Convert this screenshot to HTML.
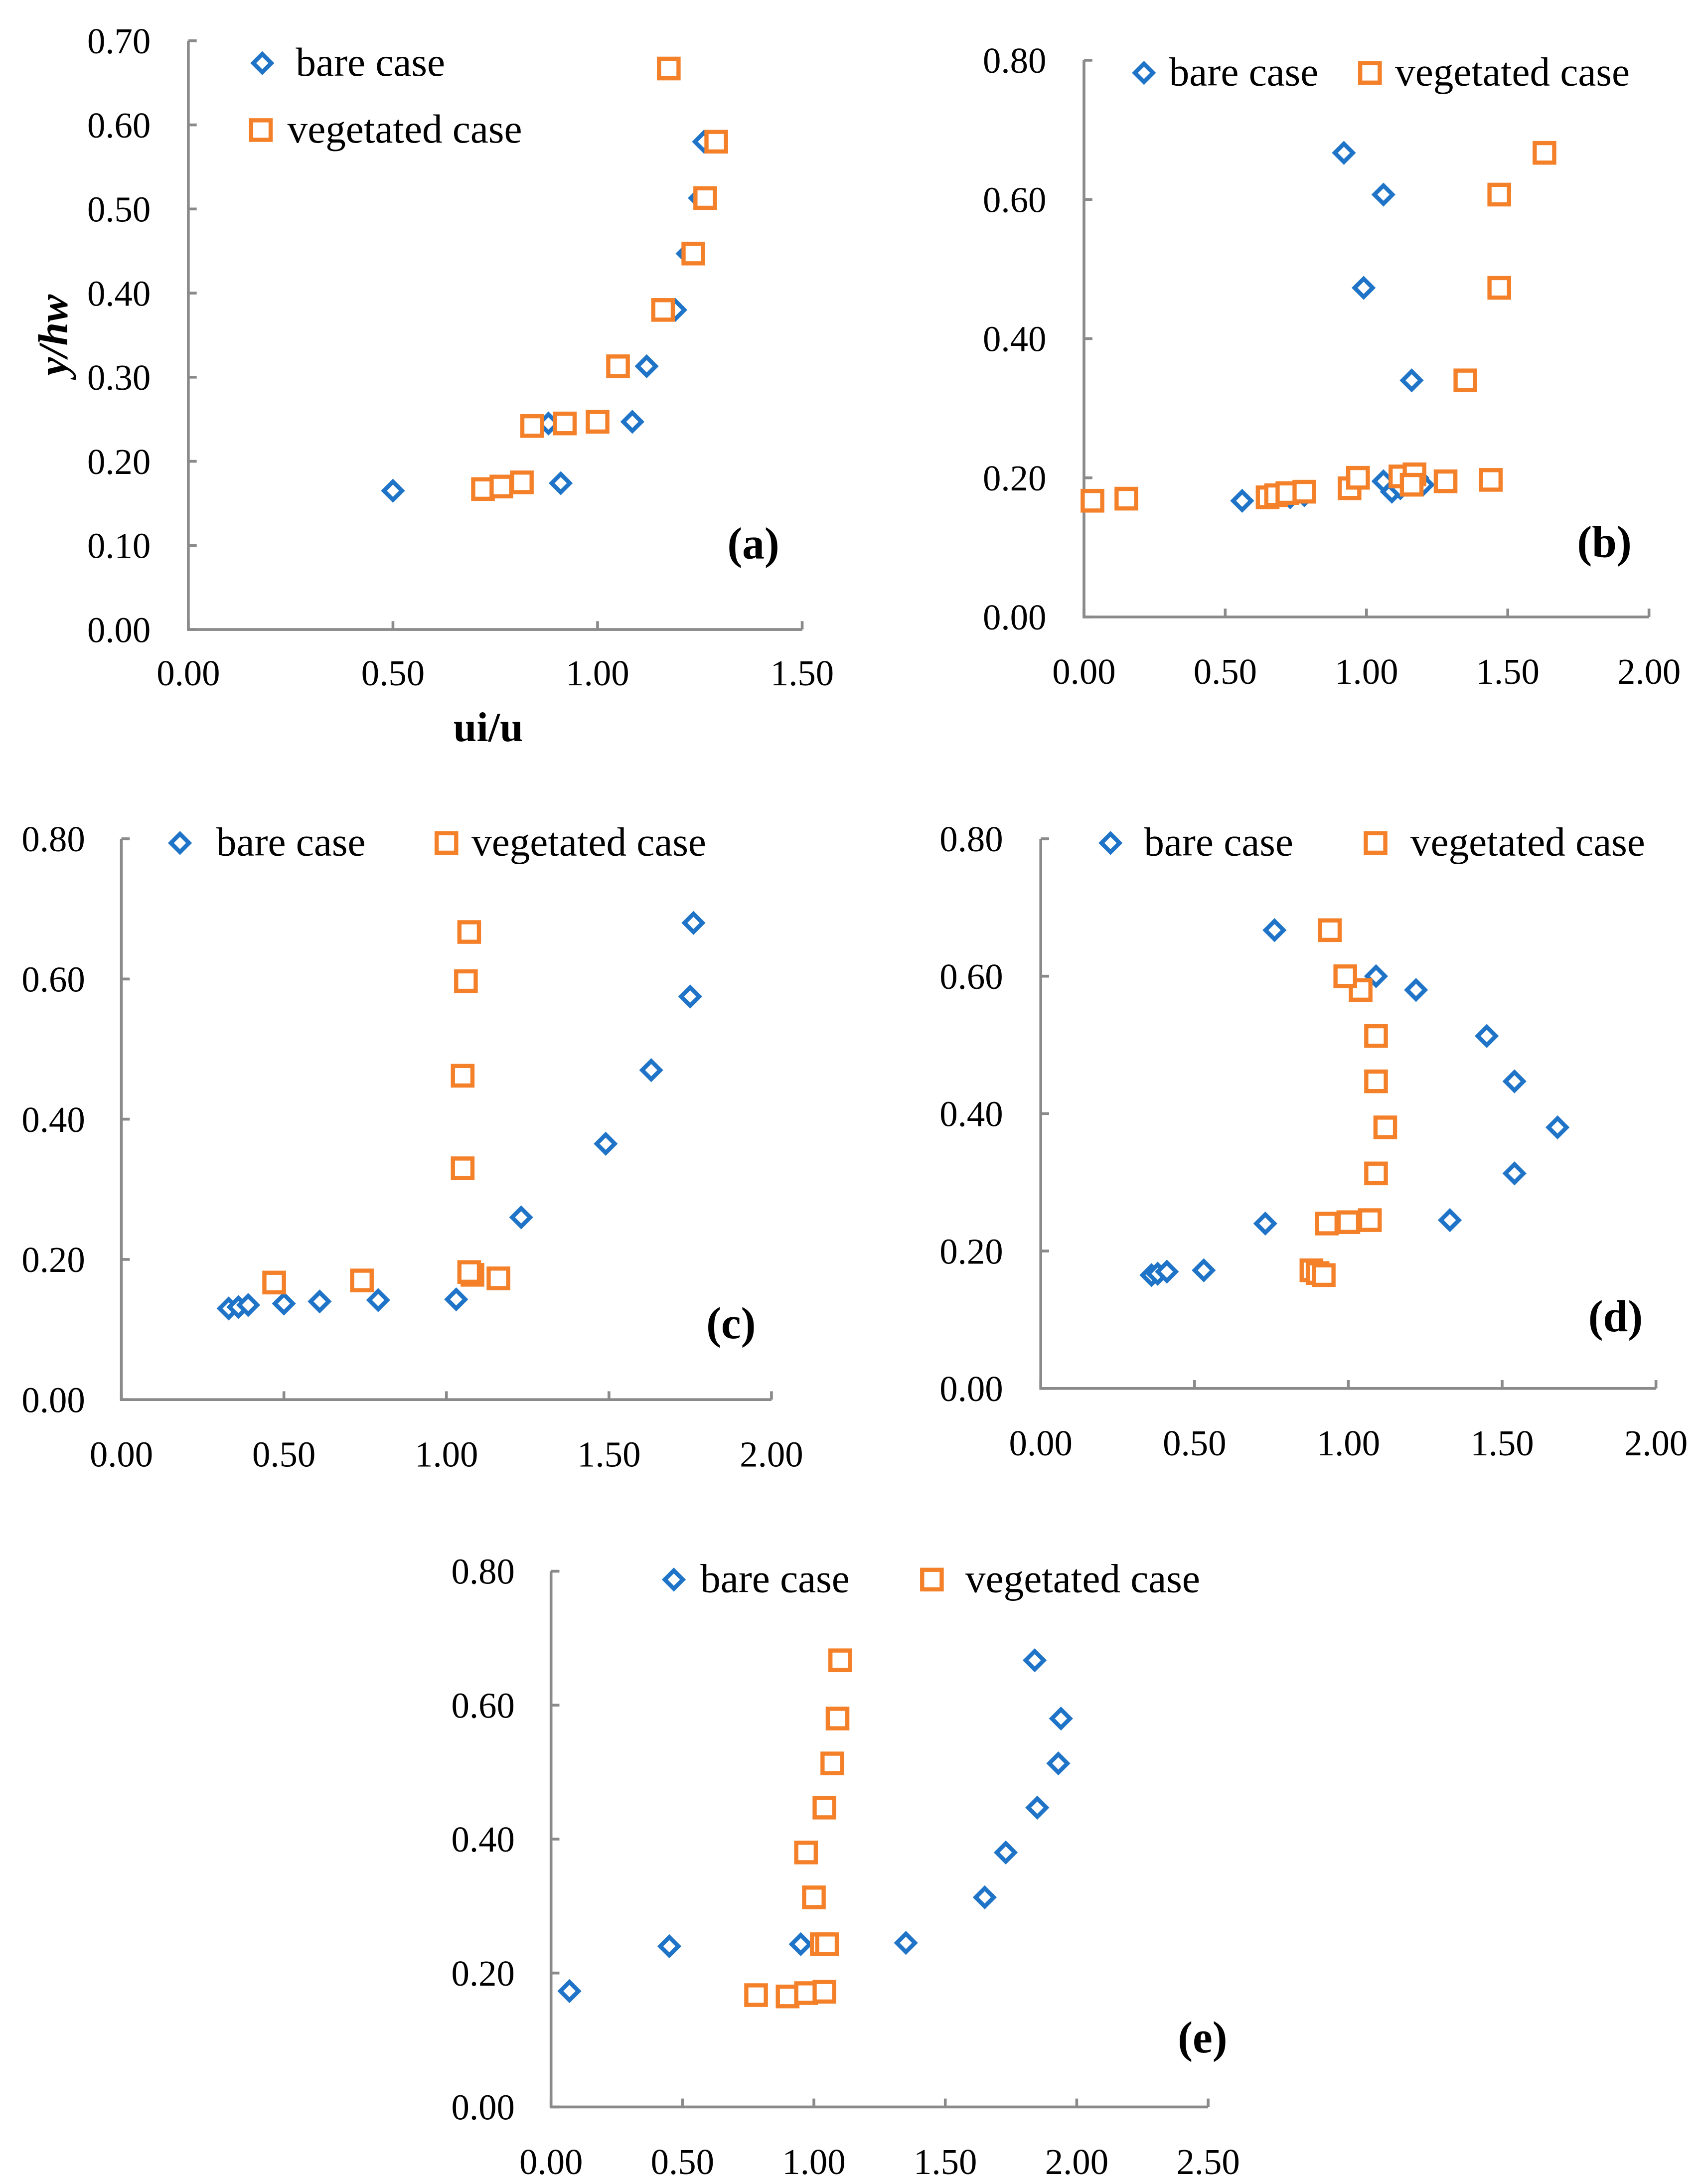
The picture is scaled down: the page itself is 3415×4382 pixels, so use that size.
<!DOCTYPE html>
<html><head><meta charset="utf-8"><style>
html,body{margin:0;padding:0;background:#fff}
svg{display:block}
text{font-family:"Liberation Serif",serif;fill:#000}
</style></head><body>
<svg id="fig" width="3415" height="4382" viewBox="0 0 1220 1565" xmlns="http://www.w3.org/2000/svg"></svg>
<script>
// Panel data (x = ui/u, y = y/hw)
const aBareX=[0.50,0.91,0.88,1.085,1.12,1.19,1.22,1.25,1.26];
const aBareY=[0.165,0.174,0.245,0.247,0.313,0.38,0.447,0.513,0.58];
const aVegX=[0.72,0.765,0.815,0.84,0.92,1.00,1.05,1.16,1.234,1.263,1.29,1.174];
const aVegY=[0.167,0.17,0.175,0.242,0.245,0.247,0.313,0.38,0.447,0.513,0.58,0.667];
const bBareX=[0.92,1.06,0.99,1.16,0.56,0.73,0.78,1.06,1.09,1.12,1.2,1.18];
const bBareY=[0.667,0.607,0.473,0.34,0.167,0.172,0.175,0.195,0.18,0.185,0.19,0.2];
const bVegX=[0.03,0.15,0.65,0.68,0.72,0.78,0.94,0.97,1.12,1.17,1.16,1.28,1.44,1.35,1.47,1.47,1.63];
const bVegY=[0.167,0.17,0.172,0.175,0.178,0.18,0.185,0.2,0.202,0.205,0.19,0.195,0.197,0.34,0.473,0.607,0.667];
const cBareX=[0.33,0.36,0.39,0.50,0.61,0.79,1.03,1.23,1.49,1.63,1.75,1.76];
const cBareY=[0.13,0.132,0.135,0.137,0.14,0.142,0.143,0.26,0.365,0.47,0.575,0.68];
const cVegX=[0.47,0.74,1.08,1.07,1.16,1.05,1.05,1.06,1.07];
const cVegY=[0.167,0.17,0.178,0.182,0.173,0.33,0.462,0.597,0.667];
const dBareX=[0.36,0.38,0.41,0.53,0.73,1.33,1.54,1.68,1.54,1.45,1.22,1.09,0.76];
const dBareY=[0.165,0.167,0.17,0.172,0.24,0.245,0.313,0.38,0.447,0.513,0.58,0.6,0.667];
const dVegX=[0.88,0.90,0.92,0.93,1.00,1.07,1.09,1.12,1.09,1.09,1.04,0.99,0.94];
const dVegY=[0.172,0.168,0.165,0.24,0.242,0.245,0.313,0.38,0.447,0.513,0.58,0.6,0.667];
const eBareX=[0.07,0.45,0.95,1.35,1.65,1.73,1.85,1.93,1.94,1.84];
const eBareY=[0.173,0.24,0.243,0.245,0.313,0.38,0.447,0.513,0.58,0.667];
const eVegX=[0.78,0.90,0.97,1.04,1.03,1.05,1.00,0.97,1.04,1.07,1.09,1.10];
const eVegY=[0.167,0.165,0.17,0.172,0.243,0.243,0.313,0.38,0.447,0.513,0.58,0.667];
const aXTicks=["0.00","0.50","1.00","1.50"];
const aYTicks=["0.00","0.10","0.20","0.30","0.40","0.50","0.60","0.70"];
const bXTicks=["0.00","0.50","1.00","1.50","2.00"];
const bYTicks=["0.00","0.20","0.40","0.60","0.80"];
const eXTicks=["0.00","0.50","1.00","1.50","2.00","2.50"];

const NS="http://www.w3.org/2000/svg";
const svg=document.getElementById('fig');
function mk(tag,attrs,parent){const e=document.createElementNS(NS,tag);for(const k in attrs)e.setAttribute(k,attrs[k]);(parent||svg).appendChild(e);return e;}
function diamond(g,x,y){const s=6.5;return mk('polygon',{points:`${x},${y-s} ${x+s},${y} ${x},${y+s} ${x-s},${y}`,fill:'#fff',stroke:'#1f74c7','stroke-width':3},g);}
function square(g,x,y){const s=7;return mk('rect',{x:x-s,y:y-s,width:2*s,height:2*s,fill:'#fff',stroke:'#f4812a','stroke-width':3},g);}

function panel(id,cfg){
  const g=mk('g',{});
  
  
  const xs=v=>cfg.x0+(v-cfg.xmin)/(cfg.xmax-cfg.xmin)*(cfg.x1-cfg.x0);
  const ys=v=>cfg.y0-(v-cfg.ymin)/(cfg.ymax-cfg.ymin)*(cfg.y0-cfg.y1);
  const ax=mk('path',{d:`M${cfg.x0} ${cfg.y1}V${cfg.y0}H${cfg.x1}`,fill:'none',stroke:'#8a8a8a','stroke-width':2},g);
  
  
  cfg.xt.forEach((t)=>{const x=xs(+t);
    mk('line',{x1:x,y1:cfg.y0,x2:x,y2:cfg.y0-6,stroke:'#8a8a8a','stroke-width':2},g);
    const tx=mk('text',{x:x,y:cfg.y0+cfg.xlabOff,'text-anchor':'middle','font-size':26},g);tx.textContent=t;
    
    
  });
  cfg.yt.forEach((t)=>{const y=ys(+t);
    mk('line',{x1:cfg.x0,y1:y,x2:cfg.x0+6,y2:y,stroke:'#8a8a8a','stroke-width':2},g);
    const tx=mk('text',{x:cfg.x0-cfg.ylabOff,y:y+9,'text-anchor':'end','font-size':26},g);tx.textContent=t;
    
    
  });
  cfg.bx.forEach((v,i)=>{const m=diamond(g,xs(v),ys(cfg.by[i]));
    
    });
  cfg.vx.forEach((v,i)=>{const m=square(g,xs(v),ys(cfg.vy[i]));
    
    });
  const L=cfg.leg;
  const lg=mk('g',{},g);
  
  
  diamond(lg,L[0],L[1]);
  let t=mk('text',{x:L[2],y:L[1]+9,'font-size':29},lg);t.textContent='bare case';
  square(lg,L[3],L[4]);
  t=mk('text',{x:L[5],y:L[4]+9,'font-size':29},lg);t.textContent='vegetated case';
  const pl=mk('text',{x:cfg.lab[0],y:cfg.lab[1],'font-size':32,'font-weight':'bold','text-anchor':'middle'},g);
  pl.textContent='('+id+')';
  
  
  return g;
}

panel('a',{x0:135,x1:575,y0:451,y1:29,xmin:0,xmax:1.5,ymin:0,ymax:0.7,xt:aXTicks,yt:aYTicks,xlabOff:40,ylabOff:27,
  bx:aBareX,by:aBareY,vx:aVegX,vy:aVegY,leg:[188,45,212,187,93,206],lab:[540,400]});
panel('b',{x0:777,x1:1182,y0:442,y1:43,xmin:0,xmax:2,ymin:0,ymax:0.8,xt:bXTicks,yt:bYTicks,xlabOff:48,ylabOff:27,
  bx:bBareX,by:bBareY,vx:bVegX,vy:bVegY,leg:[820,52,838,982,52,1000],lab:[1150,399]});
panel('c',{x0:87,x1:553,y0:1003,y1:601,xmin:0,xmax:2,ymin:0,ymax:0.8,xt:bXTicks,yt:bYTicks,xlabOff:48,ylabOff:26,
  bx:cBareX,by:cBareY,vx:cVegX,vy:cVegY,leg:[129,604,155,320,604,338],lab:[524,959]});
panel('d',{x0:746,x1:1187,y0:995,y1:601,xmin:0,xmax:2,ymin:0,ymax:0.8,xt:bXTicks,yt:bYTicks,xlabOff:48,ylabOff:27,
  bx:dBareX,by:dBareY,vx:dVegX,vy:dVegY,leg:[796,604,820,986,604,1011],lab:[1158,954]});
panel('e',{x0:395,x1:866,y0:1510,y1:1126,xmin:0,xmax:2.5,ymin:0,ymax:0.8,xt:eXTicks,yt:bYTicks,xlabOff:48,ylabOff:26,
  bx:eBareX,by:eBareY,vx:eVegX,vy:eVegY,leg:[483,1132,502,668,1132,692],lab:[862,1471]});

const xt=mk('text',{x:350,y:531,'font-size':30,'font-weight':'bold','text-anchor':'middle'});
xt.textContent='ui/u';


const yt=mk('text',{x:0,y:0,'font-size':30,'font-weight':'bold','font-style':'italic','text-anchor':'middle',transform:'translate(48,240) rotate(-90)'});
yt.textContent='y/hw';


</script>
</body></html>
